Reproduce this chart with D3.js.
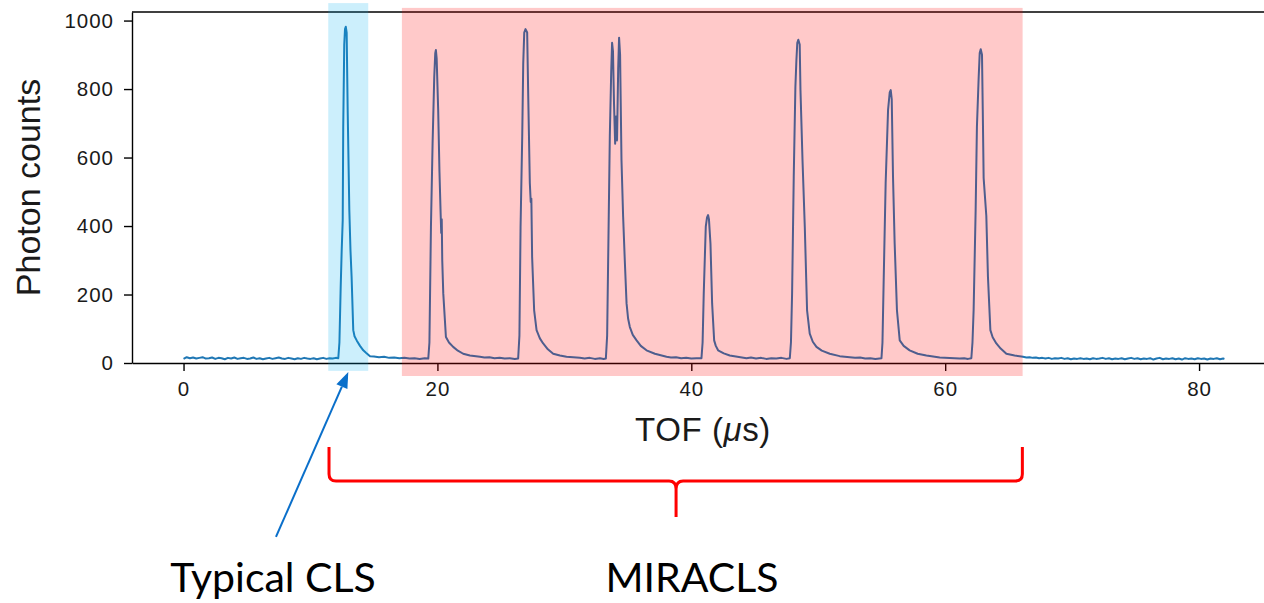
<!DOCTYPE html>
<html>
<head>
<meta charset="utf-8">
<script src="https://cdn.jsdelivr.net/npm/d3@7"></script>
<style>
  html, body { margin: 0; padding: 0; background: #fff; overflow: hidden; }
  svg { display: block; }
</style>
</head>
<body>
<svg id="chart" width="1264" height="603"></svg>
<script>
// ---------------- data (TOF in µs, photon counts per bin) ----------------
const xTicks = [0, 20, 40, 60, 80];
const yTicks = [0, 200, 400, 600, 800, 1000];

// flat background before the first bunch
const baselineEarly = [
  [0.00,12],[0.25,17],[0.50,14],[0.75,16],[1.00,13],[1.25,15],[1.50,17],[1.75,13],
  [2.00,14],[2.25,16],[2.50,12],[2.75,15],[3.00,14],[3.25,11],[3.50,15],[3.75,13],
  [4.00,16],[4.25,12],[4.50,14],[4.75,15],[5.00,12],[5.25,13],[5.50,16],[5.75,12],
  [6.00,14],[6.25,11],[6.50,13],[6.75,15],[7.00,12],[7.25,14],[7.50,16],[7.75,13],
  [8.00,12],[8.25,15],[8.50,13],[8.75,11],[9.00,14],[9.25,12],[9.50,15],[9.75,13],
  [10.00,12],[10.25,14],[10.50,11],[10.75,13],[11.00,15],[11.25,12],[11.50,14],[11.75,13],
  [12.00,15]
];

// single-pass bunch (conventional collinear laser spectroscopy)
const peakCLS = [
  [12.19,14],[12.28,60],[12.38,222],[12.46,330],[12.54,417],[12.58,690],[12.66,930],
  [12.72,975],[12.78,982],[12.85,965],[12.93,739],[13.06,447],[13.15,330],[13.24,251],
  [13.37,96],[13.47,78],[13.64,66],[13.90,50],[14.16,37],[14.37,30],[14.69,20],
  [15.00,19],[15.40,17],[15.80,18],[16.20,15],[16.60,16],[17.00,14],[17.40,15],
  [17.80,13],[18.20,14],[18.60,12],[19.00,14]
];

// multi-reflection passes of the same bunch
const peaksMIRACLS = [
  // ~19.9 µs
  [19.28,13],[19.37,60],[19.49,398],[19.62,642],[19.75,836],[19.83,905],[19.88,914],
  [19.94,890],[20.06,739],[20.16,560],[20.25,440],[20.30,380],[20.34,420],[20.38,300],
  [20.46,204],[20.67,76],[20.91,60],[21.24,47],[21.61,36],[22.03,27],[22.56,22],[23.35,18],
  [23.70,16],[24.10,17],[24.50,14],[24.90,15],[25.30,13],[25.70,14],[26.10,12],
  // ~26.9 µs
  [26.36,13],[26.46,80],[26.55,398],[26.68,661],[26.76,875],[26.84,965],[26.94,975],
  [27.07,965],[27.15,788],[27.28,525],[27.35,470],[27.40,480],[27.46,310],[27.62,154],
  [27.81,96],[28.07,72],[28.33,57],[28.70,40],[29.12,27],[29.65,22],[30.17,18],[31.22,15],
  [31.60,13],[32.00,15],[32.40,12],[32.80,14],[33.10,12],
  // ~34 µs (double structure)
  [33.27,13],[33.37,80],[33.45,300],[33.58,661],[33.69,850],[33.76,935],[33.83,910],
  [33.91,760],[34.00,640],[34.07,720],[34.15,650],[34.24,860],[34.31,950],[34.39,900],
  [34.50,593],[34.63,427],[34.76,300],[34.90,174],[35.02,130],[35.16,105],[35.39,82],
  [35.69,66],[36.02,50],[36.47,37],[37.13,27],[38.05,18],
  [38.40,16],[38.80,17],[39.20,14],[39.60,15],[40.00,13],[40.40,14],
  // ~41.3 µs
  [40.80,14],[40.89,60],[40.98,203],[41.14,398],[41.24,425],[41.32,432],[41.39,420],
  [41.51,349],[41.64,174],[41.80,66],[41.93,50],[42.11,37],[42.56,28],[43.03,22],[44.35,14],
  [44.70,16],[45.10,13],[45.50,15],[45.90,12],[46.30,14],[46.70,13],[47.10,15],[47.50,12],
  // ~48.4 µs
  [47.76,14],[47.85,60],[47.94,203],[48.07,544],[48.20,807],[48.28,885],[48.35,935],
  [48.43,944],[48.54,930],[48.60,797],[48.76,593],[48.94,398],[49.12,154],[49.33,86],
  [49.57,62],[49.86,47],[50.28,36],[50.91,27],[51.69,20],[52.48,17],
  [52.90,15],[53.30,16],[53.70,13],[54.10,14],[54.50,12],
  // ~55.7 µs
  [54.98,14],[55.06,60],[55.16,251],[55.31,525],[55.50,739],[55.63,790],[55.71,797],
  [55.79,770],[55.89,544],[56.02,349],[56.20,154],[56.42,66],[56.73,50],[57.20,37],
  [57.83,27],[58.52,22],[59.57,16],[61.14,13],[61.50,14],[61.80,12],
  // ~62.8 µs
  [62.06,14],[62.15,60],[62.24,154],[62.40,447],[62.50,690],[62.64,836],[62.72,905],
  [62.80,916],[62.90,900],[62.96,740],[63.03,540],[63.24,430],[63.37,251],[63.56,96],
  [63.74,75],[64.03,57],[64.37,42],[64.82,27],[65.47,22],[66.13,18]
];

// background after the last pass
const baselineLate = [
  [66.40,16],[66.65,17],[66.90,15],[67.15,16],[67.40,14],[67.65,15],[67.90,13],[68.15,15],
  [68.40,12],[68.65,14],[68.90,13],[69.15,15],[69.40,12],[69.65,14],[69.90,11],[70.15,13],
  [70.40,12],[70.65,14],[70.90,12],[71.15,13],[71.40,11],[71.65,14],[71.90,12],[72.15,13],
  [72.40,15],[72.65,12],[72.90,14],[73.15,11],[73.40,13],[73.65,12],[73.90,14],[74.15,11],
  [74.40,13],[74.65,15],[74.90,12],[75.15,14],[75.40,11],[75.65,13],[75.90,12],[76.15,14],
  [76.40,10],[76.65,13],[76.90,15],[77.15,11],[77.40,13],[77.65,12],[77.90,14],[78.15,11],
  [78.40,13],[78.65,10],[78.90,14],[79.15,12],[79.40,13],[79.65,11],[79.90,14],[80.15,12],
  [80.40,13],[80.65,10],[80.90,13],[81.15,12],[81.40,14],[81.65,11],[81.90,13],[82.00,12]
];

// highlighted time windows [start, end] in µs, with vertical reach in counts
const windowCLS = { t: [11.40, 14.55], c: [-23, 1051] };
const windowMIRACLS = { t: [17.20, 66.10], c: [-38, 1037] };

// ---------------- chart ----------------
const svg = d3.select("#chart");
const x = d3.scaleLinear().domain([-4.06, 86.1]).range([132, 1276.5]);
const y = d3.scaleLinear().domain([0, 1025]).range([363, 12]);

const axisFont = "'Liberation Sans', Arial, Helvetica, sans-serif";
const noteFont = "Lato, 'Open Sans', sans-serif";

const spectrum = baselineEarly.concat(peakCLS, peaksMIRACLS, baselineLate);

// trace
svg.append("path")
  .datum(spectrum)
  .attr("fill", "none")
  .attr("stroke", "#1f77b4")
  .attr("stroke-width", 2)
  .attr("stroke-linejoin", "round")
  .attr("d", d3.line().x(d => x(d[0])).y(d => y(d[1])));

// axes
const yAxis = svg.append("g")
  .attr("transform", `translate(${x.range()[0]},0)`)
  .call(d3.axisLeft(y).tickValues(yTicks).tickFormat(d3.format("d"))
    .tickSize(8).tickSizeOuter(0).tickPadding(10));
const xAxis = svg.append("g")
  .attr("transform", `translate(0,${y(0)})`)
  .call(d3.axisBottom(x).tickValues(xTicks).tickFormat(d3.format("d"))
    .tickSize(8).tickSizeOuter(0).tickPadding(10));

[yAxis, xAxis].forEach(g => {
  g.select(".domain").attr("stroke", "#000").attr("stroke-width", 1.4);
  g.selectAll(".tick line").attr("stroke", "#000").attr("stroke-width", 1.4);
  g.selectAll(".tick text")
    .attr("font-family", axisFont)
    .attr("font-size", 20.5)
    .attr("letter-spacing", 1)
    .attr("fill", "#1a1a1a");
});

// top spine
svg.append("line")
  .attr("x1", x.range()[0]).attr("x2", x.range()[1])
  .attr("y1", y(1025)).attr("y2", y(1025))
  .attr("stroke", "#000").attr("stroke-width", 1.4);

// axis titles
svg.append("text")
  .attr("transform", `translate(40,${(y(0) + y(1025)) / 2}) rotate(-90)`)
  .attr("text-anchor", "middle")
  .attr("font-family", axisFont)
  .attr("font-size", 34)
  .attr("fill", "#1a1a1a")
  .text("Photon counts");

const xTitle = svg.append("text")
  .attr("x", 703).attr("y", 441)
  .attr("text-anchor", "middle")
  .attr("font-family", axisFont)
  .attr("font-size", 33)
  .attr("letter-spacing", 0.6)
  .attr("fill", "#1a1a1a");
xTitle.append("tspan").text("TOF (");
xTitle.append("tspan").attr("font-style", "italic").text("\u03bc");
xTitle.append("tspan").text("s)");

// highlighted windows drawn over the trace
svg.append("rect")
  .attr("x", x(windowCLS.t[0])).attr("width", x(windowCLS.t[1]) - x(windowCLS.t[0]))
  .attr("y", y(windowCLS.c[1])).attr("height", y(windowCLS.c[0]) - y(windowCLS.c[1]))
  .attr("fill", "#00b0f0").attr("fill-opacity", 0.2);
svg.append("rect")
  .attr("x", x(windowMIRACLS.t[0])).attr("width", x(windowMIRACLS.t[1]) - x(windowMIRACLS.t[0]))
  .attr("y", y(windowMIRACLS.c[1])).attr("height", y(windowMIRACLS.c[0]) - y(windowMIRACLS.c[1]))
  .attr("fill", "#ff0000").attr("fill-opacity", 0.21);

// arrow pointing at the single-pass bunch
const arrowTip = [x(12.98), y(-26)];
const arrowTail = [x(7.28), y(-508)];
const ang = Math.atan2(arrowTip[1] - arrowTail[1], arrowTip[0] - arrowTail[0]);
const headLen = 16, headHalf = 6;
const base = [arrowTip[0] - headLen * Math.cos(ang), arrowTip[1] - headLen * Math.sin(ang)];
svg.append("line")
  .attr("x1", arrowTail[0]).attr("y1", arrowTail[1])
  .attr("x2", base[0]).attr("y2", base[1])
  .attr("stroke", "#0a6fca").attr("stroke-width", 2);
svg.append("path")
  .attr("d", `M${arrowTip[0]},${arrowTip[1]}
    L${base[0] + headHalf * Math.sin(ang)},${base[1] - headHalf * Math.cos(ang)}
    L${base[0] - headHalf * Math.sin(ang)},${base[1] + headHalf * Math.cos(ang)}Z`)
  .attr("fill", "#0a6fca");

// curly brace spanning the multi-pass window
const bx0 = x(11.46), bx1 = x(66.08), bmid = x(38.8);
const bTop = 447, bLine = 481, bTip = 517, r = 7;
const brace = d3.path();
brace.moveTo(bx0, bTop);
brace.lineTo(bx0, bLine - r);
brace.quadraticCurveTo(bx0, bLine, bx0 + r, bLine);
brace.lineTo(bmid - r, bLine);
brace.quadraticCurveTo(bmid, bLine, bmid, bLine + r + 1);
brace.lineTo(bmid, bTip);
brace.moveTo(bmid, bLine + r + 1);
brace.quadraticCurveTo(bmid, bLine, bmid + r, bLine);
brace.lineTo(bx1 - r, bLine);
brace.quadraticCurveTo(bx1, bLine, bx1, bLine - r);
brace.lineTo(bx1, bTop);
svg.append("path")
  .attr("d", brace.toString())
  .attr("fill", "none")
  .attr("stroke", "#ff0000")
  .attr("stroke-width", 3)
  .attr("stroke-linejoin", "round");

// labels
svg.append("text")
  .attr("x", 273).attr("y", 592)
  .attr("text-anchor", "middle")
  .attr("font-family", noteFont)
  .attr("font-size", 41)
  .attr("fill", "#000")
  .text("Typical CLS");
svg.append("text")
  .attr("x", 692).attr("y", 592)
  .attr("text-anchor", "middle")
  .attr("font-family", noteFont)
  .attr("font-size", 41)
  .attr("fill", "#000")
  .text("MIRACLS");
</script>
</body>
</html>
